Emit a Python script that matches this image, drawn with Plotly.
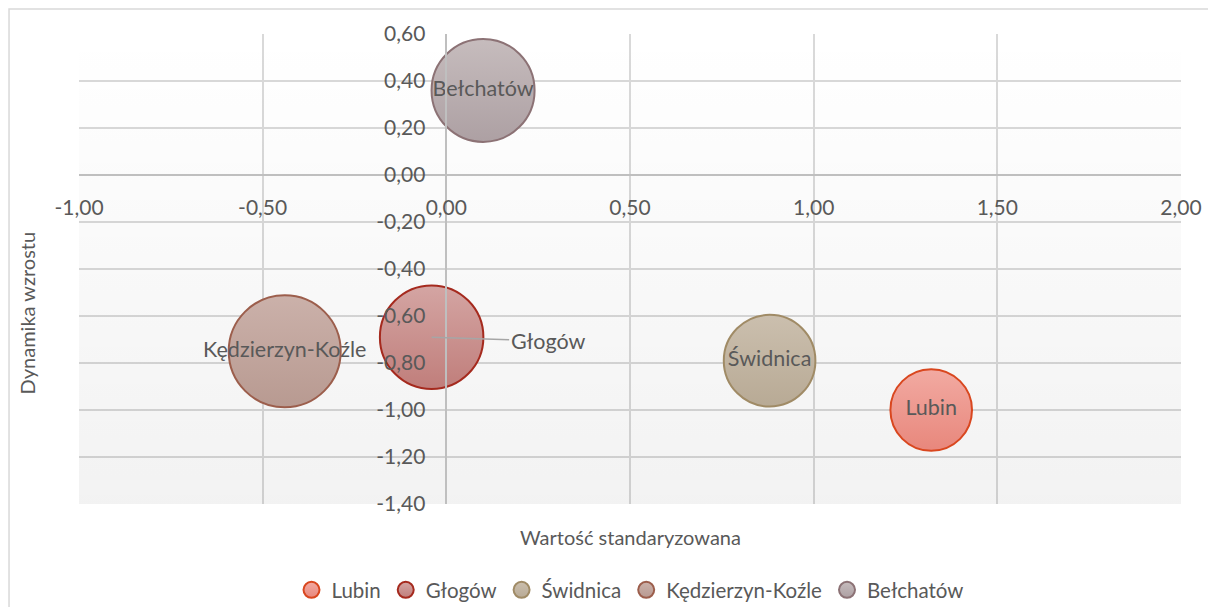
import plotly.graph_objects as go

# ---- data ----
miasta = ["Lubin", "Głogów", "Świdnica", "Kędzierzyn-Koźle", "Bełchatów"]
wartosc_std = [1.32, -0.04, 0.88, -0.44, 0.10]        # x
dynamika = [-1.00, -0.69, -0.79, -0.75, 0.36]          # y
wielkosc = [69, 111, 87, 130, 110]                     # bubble size (area)

x_ticks = [-1.0, -0.5, 0.0, 0.5, 1.0, 1.5, 2.0]
y_ticks = [-1.4, -1.2, -1.0, -0.8, -0.6, -0.4, -0.2, 0.0, 0.2, 0.4, 0.6]

x_range = [x_ticks[0], x_ticks[-1]]
y_range = [y_ticks[0], y_ticks[-1]]


def fmt(v):
    return f"{v:.2f}".replace(".", ",")


fill_top = ["#f2aaa2", "#d4a5a3", "#cbbfae", "#cbb1aa", "#c6bcbd"]
fill_bot = ["#e8877c", "#c07e7b", "#b8aa95", "#b89a91", "#ada0a3"]
line_col = ["#d9471f", "#a52a1e", "#a08b66", "#9c5e4c", "#8c7275"]
label_pos = ["middle center", None, "middle center", "middle center", "middle center"]

FONT = "Lato, Open Sans, sans-serif"
TXT = "#595959"

fig = go.Figure()

# plot-area background gradient
fig.add_trace(go.Scatter(
    x=[x_range[0], x_range[1], x_range[1], x_range[0], x_range[0]],
    y=[y_range[1], y_range[1], y_range[0], y_range[0], y_range[1]],
    mode="none", fill="toself",
    fillgradient=dict(type="vertical", start=y_range[0], stop=y_range[1],
                      colorscale=[[0, "rgba(0,0,0,0.05)"], [1, "rgba(0,0,0,0)"]]),
    hoverinfo="skip", showlegend=False))

maxd = 112
sizeref = 2.0 * max(wielkosc) / maxd ** 2

for i, m in enumerate(miasta):
    fig.add_trace(go.Scatter(
        x=[wartosc_std[i]], y=[dynamika[i]], name=m,
        mode="markers+text" if label_pos[i] else "markers",
        text=[m] if label_pos[i] else None,
        textposition=label_pos[i] if label_pos[i] else None,
        textfont=dict(family=FONT, size=21.5, color=TXT),
        marker=dict(size=[wielkosc[i]], sizemode="area", sizeref=sizeref,
                    color=fill_top[i],
                    gradient=dict(type="vertical", color=fill_bot[i]),
                    line=dict(color=line_col[i], width=2), opacity=1),
        cliponaxis=False))

# Głogów label with leader line
fig.add_annotation(x=wartosc_std[1], y=dynamika[1], text="Głogów",
                   showarrow=True, arrowhead=0, arrowcolor="#a6a6a6", arrowwidth=1.5,
                   ax=116, ay=4, standoff=0,
                   font=dict(family=FONT, size=21.5, color=TXT))

# axis titles
fig.add_annotation(x=0.5, y=-0.07, xref="paper", yref="paper", showarrow=False,
                   xanchor="center", yanchor="middle",
                   text="Wartość standaryzowana",
                   font=dict(family=FONT, size=20, color=TXT))
fig.add_annotation(x=-0.047, y=0.406, xref="paper", yref="paper", showarrow=False,
                   xanchor="center", yanchor="middle",
                   text="Dynamika wzrostu", textangle=-90,
                   font=dict(family=FONT, size=20, color=TXT))

# outer chart border
fig.add_shape(type="rect", xref="paper", yref="paper",
              x0=-0.0635, x1=1.2, y0=-0.4, y1=1.053,
              line=dict(color="#d9d9d9", width=1.5), layer="below")

x_pos_of_yaxis = (0 - x_range[0]) / (x_range[1] - x_range[0])
y_pos_of_xaxis = (0 - y_range[0]) / (y_range[1] - y_range[0])

fig.update_layout(
    width=1208, height=607,
    margin=dict(l=79, r=27, t=34, b=103, autoexpand=False),
    paper_bgcolor="white", plot_bgcolor="white",
    font=dict(family=FONT, size=20, color=TXT),
    showlegend=True,
    legend=dict(orientation="h", x=0.5, xanchor="center", y=-0.183, yanchor="middle",
                font=dict(family=FONT, size=20.5, color=TXT), itemwidth=30,
                bgcolor="rgba(0,0,0,0)"),
    xaxis=dict(range=x_range, tickmode="array", tickvals=x_ticks,
               ticktext=[fmt(v) for v in x_ticks],
               anchor="free", position=y_pos_of_xaxis,
               showgrid=True, gridcolor="#d9d9d9", gridwidth=1.5,
               zeroline=False, showline=True, linecolor="#bfbfbf", linewidth=1.5,
               ticks="", ticklabelstandoff=14,
               tickfont=dict(family=FONT, size=21, color=TXT), automargin=False),
    yaxis=dict(range=y_range, tickmode="array", tickvals=y_ticks,
               ticktext=[fmt(v) for v in y_ticks],
               anchor="free", position=x_pos_of_yaxis,
               showgrid=True, gridcolor="#d9d9d9", gridwidth=1.5,
               zeroline=False, showline=True, linecolor="#bfbfbf", linewidth=1.5,
               ticks="", ticklabelstandoff=16,
               tickfont=dict(family=FONT, size=21, color=TXT), automargin=False),
)

fig.write_html("out.html", config={"displayModeBar": False},
               post_script="document.body.style.margin='0';document.body.style.padding='0';")
